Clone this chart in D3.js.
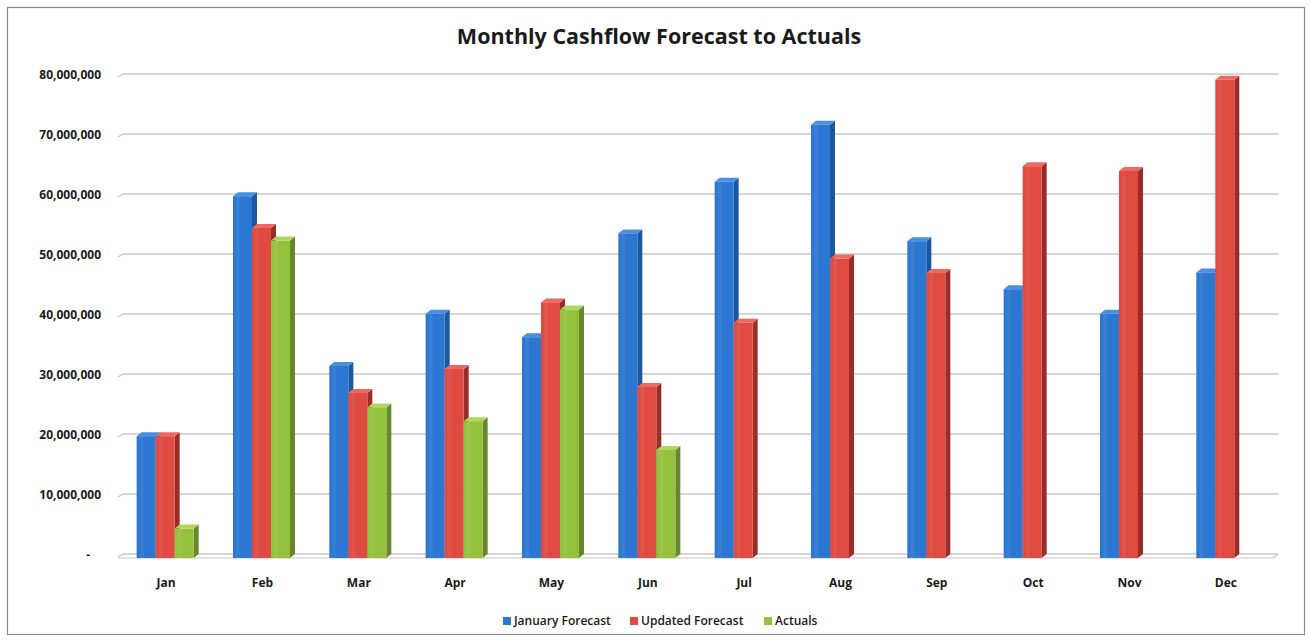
<!DOCTYPE html>
<html><head><meta charset="utf-8">
<script src="https://cdn.jsdelivr.net/npm/d3@7"></script>
<style>body{margin:0;background:#fff;}svg{display:block;font-family:"Open Sans",Lato,sans-serif;}</style>
</head><body><svg id="c" width="1310" height="641"></svg>
<script>
const months = ["Jan","Feb","Mar","Apr","May","Jun","Jul","Aug","Sep","Oct","Nov","Dec"];
const seriesNames = ["January Forecast","Updated Forecast","Actuals"];
const januaryForecast = [20300000,60300000,32000000,40700000,36800000,54100000,62700000,72200000,52800000,44800000,40700000,47600000];
const updatedForecast = [20300000,55000000,27500000,31500000,42600000,28500000,39200000,49900000,47500000,65300000,64500000,79700000];
const actuals = [4900000,52900000,25100000,22800000,41400000,18000000,null,null,null,null,null,null];
const yTicks = [0,10000000,20000000,30000000,40000000,50000000,60000000,70000000,80000000];
const colors = [
  {front:"#2c77d1", side:"#1b589f", top:"#4a8fe0"},
  {front:"#df4a41", side:"#9a2d28", top:"#ec6a62"},
  {front:"#94c23f", side:"#668a2a", top:"#aed65c"}
];

const svg = d3.select("#c");
const dx = 5, dy = 4;
const x = d3.scaleBand().domain(months).range([118, 1274]).paddingInner(0).paddingOuter(0);
const y = d3.scaleLinear().domain([0, 80000000]).range([558, 78]);
const barW = 19;

// outer border
svg.append("rect").attr("x",7.5).attr("y",7.5).attr("width",1297).attr("height",627)
  .attr("fill","#fff").attr("stroke","#8a8a8a").attr("stroke-width",1.2);

// gridlines (back wall)
const gx0 = 118, gx1 = 1278;
const grid = svg.append("g");
yTicks.forEach(t => {
  const yy = y(t) - dy;
  grid.append("line").attr("x1", gx0 + dx).attr("x2", gx1).attr("y1", yy).attr("y2", yy)
    .attr("stroke", "#c8c8c8").attr("stroke-width", 1.4);
  grid.append("line").attr("x1", gx0).attr("x2", gx0 + dx).attr("y1", yy + 3).attr("y2", yy)
    .attr("stroke", "#c8c8c8").attr("stroke-width", 1.4);
});
// floor front edge
svg.append("line").attr("x1", gx0).attr("x2", gx1 - dx).attr("y1", y(0)).attr("y2", y(0))
  .attr("stroke","#c8c8c8").attr("stroke-width",1.2);
svg.append("line").attr("x1", gx1 - dx).attr("x2", gx1).attr("y1", y(0)).attr("y2", y(0)-dy)
  .attr("stroke","#c8c8c8").attr("stroke-width",1.2);

// y labels
const fmt = d3.format(",");
svg.append("g").selectAll("text").data(yTicks).join("text")
  .attr("x", d => d === 0 ? 90 : 101)
  .attr("y", d => y(d) - dy + 1)
  .attr("dy", "0.35em")
  .attr("text-anchor", "end")
  .attr("font-size", 12).attr("font-weight", 700).attr("fill", "#1a1a1a")
  .text(d => d === 0 ? "-" : fmt(d));

// x labels
svg.append("g").selectAll("text").data(months).join("text")
  .attr("x", d => x(d) + x.bandwidth()/2)
  .attr("y", 583)
  .attr("dy", "0.35em")
  .attr("text-anchor", "middle")
  .attr("font-size", 12).attr("font-weight", 700).attr("fill", "#1a1a1a")
  .text(d => d);

// bars
const allSeries = [januaryForecast, updatedForecast, actuals];
const bars = svg.append("g");
months.forEach((m, i) => {
  const groupStart = x(m) + x.bandwidth()/2 - (barW*3)/2 - 1;
  allSeries.forEach((s, k) => {
    const v = s[i];
    if (v == null) return;
    const x0 = groupStart + k*barW, x1 = x0 + barW;
    const yt = y(v), yb = y(0);
    const c = colors[k];
    const g = bars.append("g");
    g.append("path").attr("d", `M${x1},${yt} L${x1+dx},${yt-dy} L${x1+dx},${yb-dy} L${x1},${yb} Z`).attr("fill", c.side);
    g.append("path").attr("d", `M${x0},${yt} L${x0+dx},${yt-dy} L${x1+dx},${yt-dy} L${x1},${yt} Z`).attr("fill", c.top);
    g.append("rect").attr("x", x0).attr("y", yt).attr("width", barW).attr("height", yb - yt).attr("fill", c.front);
    g.append("rect").attr("x", x0+3).attr("y", yt).attr("width", 4).attr("height", yb - yt).attr("fill", "#ffffff").attr("opacity", 0.06);
  });
});

// title
svg.append("text").attr("x", 659).attr("y", 36).attr("dy","0.35em").attr("text-anchor","middle")
  .attr("font-size", 21.5).attr("font-weight", 700).attr("fill", "#1a1a1a")
  .text("Monthly Cashflow Forecast to Actuals");

// legend
const legendX = [503, 630, 764];
const leg = svg.append("g");
seriesNames.forEach((n, k) => {
  leg.append("rect").attr("x", legendX[k]).attr("y", 617).attr("width", 8).attr("height", 8).attr("fill", colors[k].front);
  leg.append("text").attr("x", legendX[k] + 11).attr("y", 621).attr("dy","0.35em")
    .attr("font-size", 12).attr("font-weight", 600).attr("fill", "#1a1a1a").text(n);
});
</script></body></html>
